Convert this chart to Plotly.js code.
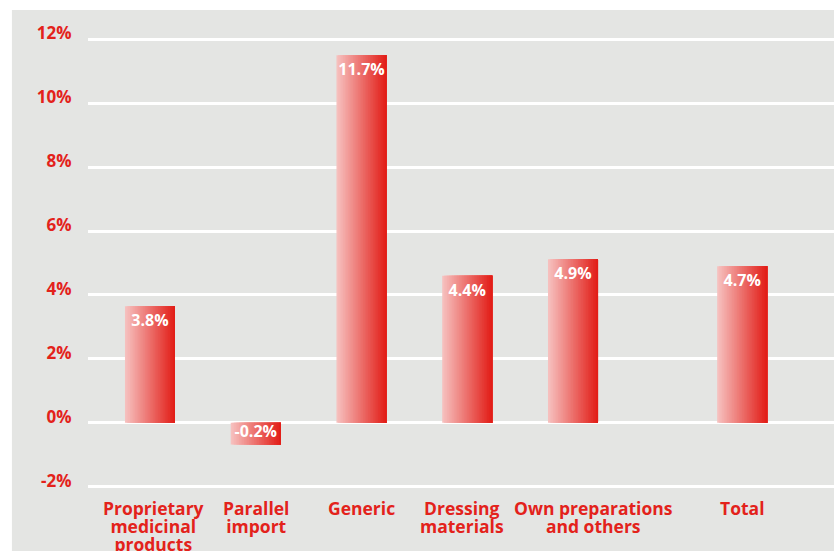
<!DOCTYPE html>
<html>
<head>
<meta charset="utf-8">
<script src="https://cdn.plot.ly/plotly-3.0.1.min.js"></script>
<style>html,body{margin:0;padding:0;background:#fff;}#chart{width:834px;height:551px;}</style>
</head>
<body>
<div id="chart"></div>
<script>
// Data
const categories = ["Proprietary medicinal products", "Parallel import", "Generic", "Dressing materials", "Own preparations and others", "Total"];
const tickLabels = ["Proprietary<br>medicinal<br>products", "Parallel<br>import", "Generic", "Dressing<br>materials", "Own preparations<br>and others", "Total"];
const barValues = [3.65, -0.68, 11.5, 4.6, 5.12, 4.9];
const valueLabels = ["3.8%", "-0.2%", "11.7%", "4.4%", "4.9%", "4.7%"];
const yTicks = [-2, 0, 2, 4, 6, 8, 10, 12];

// Layout helpers (styling / placement, not data)
const RED = "#e3221b";
const GRAY = "#e4e5e3";
const FONT = "Open Sans, Noto Sans, sans-serif";
const xPos = categories.map((c, i) => i + (i === categories.length - 1 ? 0.6 : 0));
const labelNudge = [4, 0, 0, -5, 20, 0];
const W = 0.473;
const N = 30;
const c0 = [246, 192, 190], c1 = [226, 30, 24];

const traces = [];
for (let i = 0; i < N; i++) {
  const t = i / (N - 1);
  const col = `rgb(${c0.map((v, k) => Math.round(v + (c1[k] - v) * t)).join(",")})`;
  traces.push({
    type: "bar",
    x: xPos,
    y: barValues,
    width: W - i * W / N,
    offset: -W / 2 + i * W / N,
    marker: {color: col, line: {width: 0}},
    hoverinfo: "skip",
    showlegend: false
  });
}
traces.push({
  type: "bar",
  x: xPos,
  y: barValues,
  width: W,
  offset: -W / 2,
  marker: {color: "rgba(0,0,0,0)", line: {width: 0}},
  text: valueLabels,
  textposition: "inside",
  insidetextanchor: "end",
  constraintext: "none",
  textangle: 0,
  insidetextfont: {family: FONT, size: 16, color: "#ffffff", weight: "bold"},
  hoverinfo: "skip",
  showlegend: false
});

const bigLines = s => s.split("<br>").map(l => `<span style="font-size:17.5px">${l}</span>`).join("<br>");
const annotations = tickLabels.map((lab, i) => ({
  xref: "x", yref: "paper",
  x: xPos[i], y: 0,
  xanchor: "center", yanchor: "top",
  xshift: labelNudge[i], yshift: -4,
  text: bigLines(lab),
  showarrow: false,
  align: "center",
  font: {family: FONT, size: 14, color: RED, weight: "bold"}
}));

const layout = {
  width: 834,
  height: 551,
  margin: {l: 88, r: 0, t: 36, b: 61, pad: 0},
  paper_bgcolor: "#ffffff",
  plot_bgcolor: GRAY,
  barmode: "overlay",
  hovermode: false,
  showlegend: false,
  font: {family: FONT, color: RED},
  xaxis: {
    range: [-0.586, 6.468],
    tickvals: xPos,
    showticklabels: false,
    showgrid: false,
    zeroline: false,
    showline: false,
    ticks: "",
    fixedrange: true
  },
  yaxis: {
    range: [-2.1, 12.1],
    tickvals: yTicks,
    ticktext: yTicks.map(v => v + "%"),
    ticklabelshift: -6,
    showgrid: true,
    gridcolor: "#ffffff",
    gridwidth: 3,
    zeroline: false,
    showline: false,
    ticks: "outside",
    ticklen: 12,
    tickcolor: "rgba(0,0,0,0)",
    tickfont: {family: FONT, size: 17, color: RED, weight: "bold"},
    fixedrange: true
  },
  annotations: annotations,
  shapes: [{
    type: "rect",
    xref: "paper", yref: "paper",
    x0: -0.102, x1: 1.01, y0: -0.2, y1: 1.0573,
    fillcolor: GRAY,
    line: {width: 0},
    layer: "below"
  }]
};

Plotly.newPlot("chart", traces, layout, {displayModeBar: false, staticPlot: true});
</script>
</body>
</html>
